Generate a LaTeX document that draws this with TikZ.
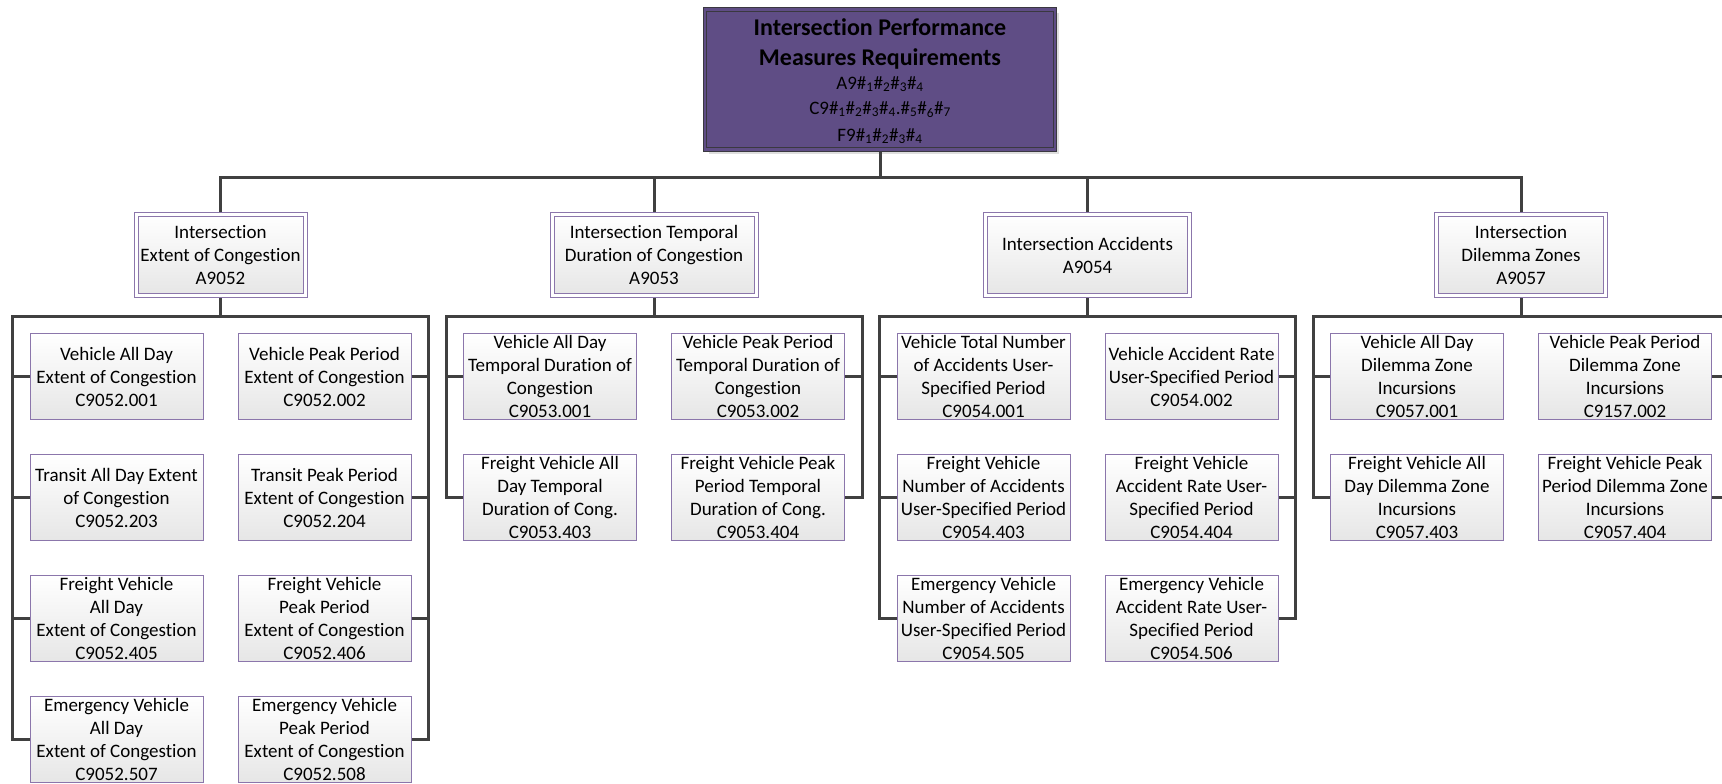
\documentclass[tikz,border=0pt]{standalone}
\usepackage{fontspec}
\setmainfont{Carlito}[Ligatures=NoCommon, RawFeature={-liga;-dlig}]
\usetikzlibrary{shadows}

\definecolor{linkgray}{HTML}{404040}
\definecolor{leafedge}{HTML}{8B76AB}
\definecolor{leaflow}{HTML}{E6E6E6}
\definecolor{headfill}{HTML}{5F4D85}
\definecolor{headedge}{HTML}{3A3840}

\tikzset{
  conn/.style={draw=linkgray, line width=3pt},
  leaf/.style={draw=leafedge, line width=1pt, top color=white, bottom color=leaflow,
    minimum width=173pt, minimum height=86pt, inner sep=0pt, outer sep=0.5pt},
  boxtext/.style={font=\fontsize{19}{23}\selectfont, align=center, inner sep=0pt},
  branch/.style={draw=leafedge, line width=1pt, double=white, double distance=3pt,
    top color=white, bottom color=leaflow, minimum height=81pt, inner sep=0pt,
    outer sep=2.5pt},
  head/.style={draw=headedge, line width=1.2pt, double=headfill, double distance=2.5pt,
    fill=headfill, minimum width=350pt, minimum height=140pt, inner sep=0pt,
    outer sep=2.45pt,
    drop shadow={shadow xshift=4pt, shadow yshift=-4pt, fill=black!13, opacity=1}},
  headline/.style={font=\bfseries\fontsize{24}{30}\selectfont, inner sep=0pt, anchor=base},
  codeline/.style={font=\fontsize{19}{23}\selectfont, inner sep=0pt, anchor=base},
}

% leaf box: name, x, y, text
\newcommand\leafnode[4]{%
  \node[leaf] (#1) at (#2,#3) {};
  \node[boxtext] (#1t) at (#1.center) {#4};}
% branch box: name, x, width, text
\newcommand\branchnode[4]{%
  \node[branch, minimum width=#3pt] (#1) at (#2,255) {};
  \node[boxtext] (#1t) at (#1.center) {#4};}
\newcommand\hs[1]{\#\textsubscript{#1}}

\begin{document}
\begin{tikzpicture}[x=1pt, y=-1pt]
\clip (0,0) rectangle (1722,784);
\fill[white] (0,0) rectangle (1722,784);

% root
\node[head] (top) at (880,79.5) {};
\node[headline] (title1) at (880,36) {Intersection Performance};
\node[headline] (title2) at (880,66) {Measures Requirements};
\node[codeline] (code1) at (880,89) {A9\hs1\hs2\hs3\hs4};
\node[codeline] (code2) at (880,114) {C9\hs1\hs2\hs3\hs4.\hs5\hs6\hs7};
\node[codeline] (code3) at (880,141) {F9\hs1\hs2\hs3\hs4};

% second level
\branchnode{A9052}{220.5}{169}{Intersection\\Extent of Congestion\\A9052}
\branchnode{A9053}{654}{204}{Intersection Temporal\\Duration of Congestion\\A9053}
\branchnode{A9054}{1087.5}{204}{Intersection Accidents\\A9054}
\branchnode{A9057}{1521}{169}{Intersection\\Dilemma Zones\\A9057}

% extent of congestion
\leafnode{ea}{116.5}{376.5}{Vehicle All Day\\Extent of Congestion\\C9052.001}
\leafnode{eb}{324.5}{376.5}{Vehicle Peak Period\\Extent of Congestion\\C9052.002}
\leafnode{ec}{116.5}{497.5}{Transit All Day Extent\\of Congestion\\C9052.203}
\leafnode{ed}{324.5}{497.5}{Transit Peak Period\\Extent of Congestion\\C9052.204}
\leafnode{ee}{116.5}{618.5}{Freight Vehicle\\All Day\\Extent of Congestion\\C9052.405}
\leafnode{ef}{324.5}{618.5}{Freight Vehicle\\Peak Period\\Extent of Congestion\\C9052.406}
\leafnode{eg}{116.5}{739.5}{Emergency Vehicle\\All Day\\Extent of Congestion\\C9052.507}
\leafnode{eh}{324.5}{739.5}{Emergency Vehicle\\Peak Period\\Extent of Congestion\\C9052.508}

% temporal duration
\leafnode{ta}{550}{376.5}{Vehicle All Day\\Temporal Duration of\\Congestion\\C9053.001}
\leafnode{tb}{758}{376.5}{Vehicle Peak Period\\Temporal Duration of\\Congestion\\C9053.002}
\leafnode{tc}{550}{497.5}{Freight Vehicle All\\Day Temporal\\Duration of Cong.\\C9053.403}
\leafnode{td}{758}{497.5}{Freight Vehicle Peak\\Period Temporal\\Duration of Cong.\\C9053.404}

% accidents
\leafnode{aa}{983.5}{376.5}{Vehicle Total Number\\of Accidents User-\\Specified Period\\C9054.001}
\leafnode{ab}{1191.5}{376.5}{Vehicle Accident Rate\\User-Specified Period\\C9054.002}
\leafnode{ac}{983.5}{497.5}{Freight Vehicle\\Number of Accidents\\User-Specified Period\\C9054.403}
\leafnode{ad}{1191.5}{497.5}{Freight Vehicle\\Accident Rate User-\\Specified Period\\C9054.404}
\leafnode{ae}{983.5}{618.5}{Emergency Vehicle\\Number of Accidents\\User-Specified Period\\C9054.505}
\leafnode{af}{1191.5}{618.5}{Emergency Vehicle\\Accident Rate User-\\Specified Period\\C9054.506}

% dilemma zones
\leafnode{da}{1417}{376.5}{Vehicle All Day\\Dilemma Zone\\Incursions\\C9057.001}
\leafnode{db}{1625}{376.5}{Vehicle Peak Period\\Dilemma Zone\\Incursions\\C9157.002}
\leafnode{dc}{1417}{497.5}{Freight Vehicle All\\Day Dilemma Zone\\Incursions\\C9057.403}
\leafnode{dd}{1625}{497.5}{Freight Vehicle Peak\\Period Dilemma Zone\\Incursions\\C9057.404}

% bus junctions
\coordinate (topJ) at (880,177);
\coordinate (eL) at (12.5,316);   \coordinate (eR) at (428.5,316);
\coordinate (tL) at (446,316);    \coordinate (tR) at (862,316);
\coordinate (aL) at (879.5,316);  \coordinate (aR) at (1295.5,316);
\coordinate (dL) at (1313,316);   \coordinate (dR) at (1729,316);

% root to second level
\draw[conn] (top.south) -- (topJ);
\foreach \n in {A9052,A9053,A9054,A9057}
  \draw[conn] (\n.north) |- (topJ);

% second level to buses
\draw[conn] (A9052.south) -- (A9052.south |- eL);
\draw[conn] (A9053.south) -- (A9053.south |- tL);
\draw[conn] (A9054.south) -- (A9054.south |- aL);
\draw[conn] (A9057.south) -- (A9057.south |- dL);

% buses
\draw[conn] (eg.west) -| (eL) -- (eR) |- (eh.east);
\draw[conn] (tc.west) -| (tL) -- (tR) |- (td.east);
\draw[conn] (ae.west) -| (aL) -- (aR) |- (af.east);
\draw[conn] (dc.west) -| (dL) -- (dR) |- (dd.east);

% stubs
\foreach \n in {ea,ec,ee} \draw[conn] (\n.west) -- (\n.west -| eL);
\foreach \n in {eb,ed,ef} \draw[conn] (\n.east) -- (\n.east -| eR);
\draw[conn] (ta.west) -- (ta.west -| tL);
\draw[conn] (tb.east) -- (tb.east -| tR);
\foreach \n in {aa,ac} \draw[conn] (\n.west) -- (\n.west -| aL);
\foreach \n in {ab,ad} \draw[conn] (\n.east) -- (\n.east -| aR);
\draw[conn] (da.west) -- (da.west -| dL);
\draw[conn] (db.east) -- (db.east -| dR);
\end{tikzpicture}
\end{document}
